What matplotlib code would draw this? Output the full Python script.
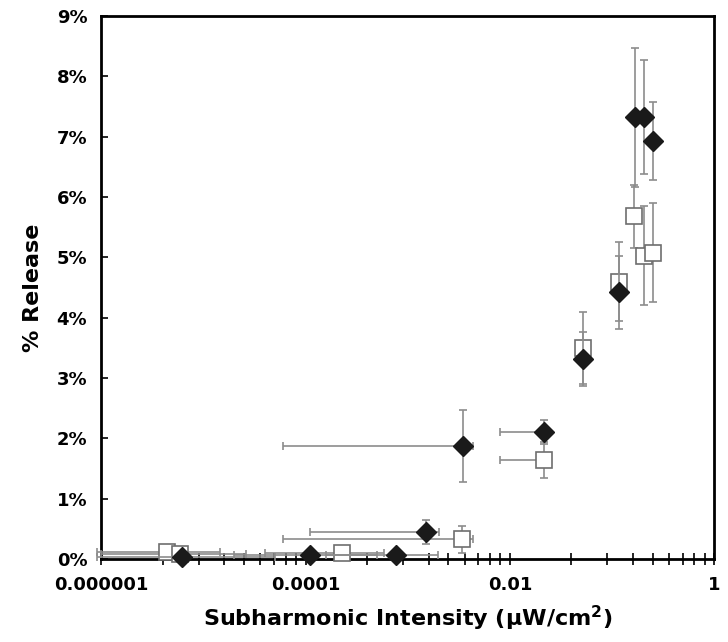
import matplotlib.pyplot as plt
from matplotlib.ticker import FixedLocator, NullFormatter

# filled diamonds
dia_x = [6.2e-6, 1.1e-4, 7.6e-4, 0.0015, 0.0035, 0.0214, 0.0525, 0.118, 0.168, 0.206, 0.252]
dia_y = [0.03, 0.07, 0.07, 0.45, 1.88, 2.11, 3.32, 4.42, 7.32, 7.33, 6.93]
dia_yerr = [0.05, 0.05, 0.05, 0.2, 0.6, 0.2, 0.45, 0.6, 1.15, 0.95, 0.65]
dia_xlo = [5.3e-6, 9e-5, 6e-4, 0.00139, 0.00344, 0.0134, 0.003, 0.01, 0.01, 0.01, 0.01]
dia_xhi = [4.4e-5, 3.9e-4, 1.2e-3, 0.00054, 0.0009, 0.0, 0.0, 0.0, 0.0, 0.0, 0.0]

# open squares
sq_x = [4.4e-6, 5.9e-6, 2.3e-4, 0.0034, 0.0214, 0.052, 0.118, 0.165, 0.206, 0.25]
sq_y = [0.12, 0.08, 0.1, 0.33, 1.64, 3.5, 4.6, 5.68, 5.03, 5.08]
sq_yerr = [0.05, 0.05, 0.05, 0.22, 0.3, 0.6, 0.65, 0.52, 0.82, 0.82]
sq_xlo = [3.5e-6, 4.9e-6, 1.9e-4, 0.00334, 0.0134, 0.0, 0.0, 0.0, 0.0, 0.0]
sq_xhi = [1.0e-5, 2.0e-5, 3.5e-4, 0.001, 0.0, 0.0, 0.0, 0.0, 0.0, 0.0]

major_x = [1e-6, 1e-4, 1e-2, 1]
major_lab = ['0.000001', '0.0001', '0.01', '1']

fig = plt.figure(figsize=(7.28, 6.42), dpi=100)
ax = fig.add_axes([0.139, 0.129, 0.842, 0.846])

ecol = '#8c8c8c'
ax.errorbar(sq_x, sq_y, yerr=sq_yerr, xerr=[sq_xlo, sq_xhi], fmt='s', ms=11,
            mfc='white', mec='#6e6e6e', mew=1.2, ecolor=ecol, elinewidth=1.2,
            capsize=3, capthick=1.2, clip_on=False, zorder=3)
ax.errorbar(dia_x, dia_y, yerr=dia_yerr, xerr=[dia_xlo, dia_xhi], fmt='D', ms=10,
            mfc='#1a1a1a', mec='#1a1a1a', ecolor=ecol, elinewidth=1.2,
            capsize=3, capthick=1.2, clip_on=False, zorder=4)

ax.set_xscale('log')
ax.set_xlim(1e-6, 1)
ax.set_ylim(0, 9)

# base-100 log axis: minor ticks at major * k^2
minor_x = [m * k * k for m in major_x[:-1] for k in range(2, 10)]
ax.xaxis.set_major_locator(FixedLocator(major_x))
ax.set_xticklabels(major_lab)
ax.xaxis.set_minor_locator(FixedLocator(minor_x))
ax.xaxis.set_minor_formatter(NullFormatter())
ax.tick_params(axis='x', which='both', direction='inout', length=8, width=1.2, pad=8)

ax.set_yticks(range(10))
ax.set_yticklabels([f'{i}%' for i in range(10)])
ax.tick_params(axis='y', direction='in', length=5, width=1.2, pad=10)

for lab in ax.get_xticklabels() + ax.get_yticklabels():
    lab.set_fontweight('bold')
    lab.set_fontsize(13)

for sp in ax.spines.values():
    sp.set_linewidth(2)

ax.set_xlabel('Subharmonic Intensity ($\\mathbf{\\mu}$W/cm$^\\mathbf{2}$)',
              fontsize=16, fontweight='bold', labelpad=7)
ax.set_ylabel('% Release', fontsize=16, fontweight='bold', labelpad=10)

fig.savefig('out.png', dpi=100)
